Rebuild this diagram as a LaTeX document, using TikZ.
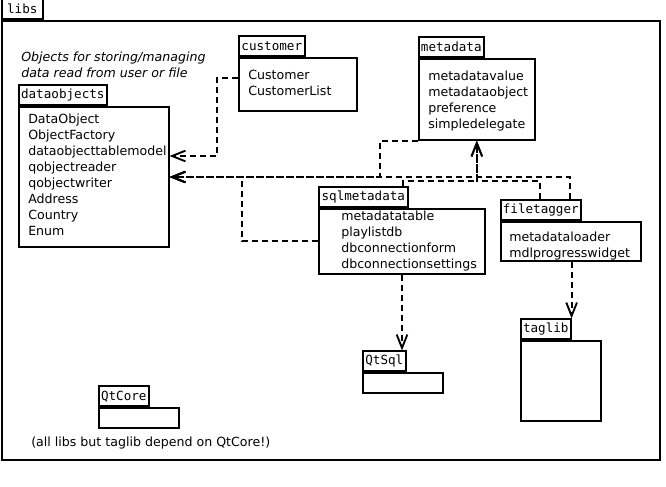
\documentclass[tikz,border=0pt]{standalone}
\usepackage{fontspec}
\setmainfont{DejaVu Sans}
\newfontfamily\pkgmonofont{DejaVu Sans Mono}
\usetikzlibrary{arrows.meta}
\newcommand\pxu{0.75pt}
\newcommand\pkglistfont{\fontsize{9.45pt}{12pt}\selectfont}
\newcommand\pkgtabfont{\pkgmonofont\fontsize{9.45pt}{12pt}\selectfont}
\newcommand\pkgnotefont{\itshape\fontsize{9.45pt}{11.6pt}\selectfont}
\tikzset{
  pkgbody/.style={draw, line width=1.2pt, inner sep=0pt, anchor=north west, fill=white},
  pkgtab/.style={draw, line width=1.2pt, inner xsep=1.5pt, inner ysep=0pt, minimum height=15pt, anchor=south west, font=\pkgtabfont, fill=white},
  pkglist/.style={anchor=north west, inner sep=0pt, align=left, font=\pkglistfont},
  dep/.style={line width=1.4pt, dash pattern=on 4.5pt off 3pt, -{Straight Barb[length=10pt,width=8pt]}},
}
\begin{document}
\begin{tikzpicture}[x=0.75pt, y=-0.75pt]
\useasboundingbox (0,0) rectangle (666,486);
% outer package
\node[pkgbody, minimum width=658*\pxu, minimum height=439*\pxu] (libs) at (1,20) {};
\node[pkgtab, minimum width=41*\pxu] (libs-tab) at (libs.north west) {libs};
% note
\node[anchor=north west, inner sep=0pt, align=left, font=\pkgnotefont] (note) at (21,52) {Objects for storing/managing\\data read from user or file};
% dataobjects
\node[pkgbody, minimum width=150*\pxu, minimum height=140*\pxu] (dataobjects) at (18,106) {};
\node[pkgtab, minimum width=88*\pxu] (dataobjects-tab) at (dataobjects.north west) {dataobjects};
\node[pkglist] (dataobjects-list) at (28,114) {DataObject\\ObjectFactory\\dataobjecttablemodel\\qobjectreader\\qobjectwriter\\Address\\Country\\Enum};
% customer
\node[pkgbody, minimum width=118*\pxu, minimum height=53*\pxu] (customer) at (238,57) {};
\node[pkgtab, minimum width=66*\pxu] (customer-tab) at (customer.north west) {customer};
\node[pkglist] (customer-list) at (248,70) {Customer\\CustomerList};
% metadata
\node[pkgbody, minimum width=116*\pxu, minimum height=81*\pxu] (metadata) at (418,58) {};
\node[pkgtab, minimum width=65*\pxu] (metadata-tab) at (metadata.north west) {metadata};
\node[pkglist] (metadata-list) at (428,71) {metadatavalue\\metadataobject\\preference\\simpledelegate};
% sqlmetadata
\node[pkgbody, minimum width=166*\pxu, minimum height=65*\pxu] (sqlmetadata) at (318,208) {};
\node[pkgtab, minimum width=89*\pxu] (sqlmetadata-tab) at (sqlmetadata.north west) {sqlmetadata};
\node[pkglist] (sqlmetadata-list) at (341,211) {metadatatable\\playlistdb\\dbconnectionform\\dbconnectionsettings};
% filetagger
\node[pkgbody, minimum width=140*\pxu, minimum height=39*\pxu] (filetagger) at (500,221) {};
\node[pkgtab, minimum width=80*\pxu] (filetagger-tab) at (filetagger.north west) {filetagger};
\node[pkglist] (filetagger-list) at (509,232) {metadataloader\\mdlprogresswidget};
% QtSql
\node[pkgbody, minimum width=80*\pxu, minimum height=20*\pxu] (QtSql) at (362,372) {};
\node[pkgtab, minimum width=43*\pxu] (QtSql-tab) at (QtSql.north west) {QtSql};
% taglib
\node[pkgbody, minimum width=80*\pxu, minimum height=80*\pxu] (taglib) at (520,340) {};
\node[pkgtab, minimum width=50*\pxu] (taglib-tab) at (taglib.north west) {taglib};
% QtCore
\node[pkgbody, minimum width=80*\pxu, minimum height=20*\pxu] (QtCore) at (98,407) {};
\node[pkgtab, minimum width=50*\pxu] (QtCore-tab) at (QtCore.north west) {QtCore};
\node[anchor=west, inner sep=0pt, font=\pkglistfont] (caption) at (31,443) {(all libs but taglib depend on QtCore!)};
% dependencies
\draw[dep] (customer.west |- 0,78) -| (217,156) -- (dataobjects.east |- 0,156);
\draw[dep] (sqlmetadata.west |- 0,241) -| (242,177) -- (dataobjects.east |- 0,177);
\draw[dep] (metadata.south west) -| (380,177) -- (dataobjects.east |- 0,177);
\draw[dep] (filetagger-tab.north -| 570,0) |- (dataobjects.east |- 0,177);
\draw[dep] (sqlmetadata-tab.north -| 403,0) |- (metadata.south |- 0,181) -- (metadata.south);
\draw[dep] (filetagger-tab.north -| 540,0) |- (metadata.south |- 0,181) -- (metadata.south);
\draw[dep] (sqlmetadata.south -| 402,0) -- (QtSql-tab.north -| 402,0);
\draw[dep] (filetagger.south -| taglib-tab.north east) -- (taglib-tab.north east);
\end{tikzpicture}
\end{document}
